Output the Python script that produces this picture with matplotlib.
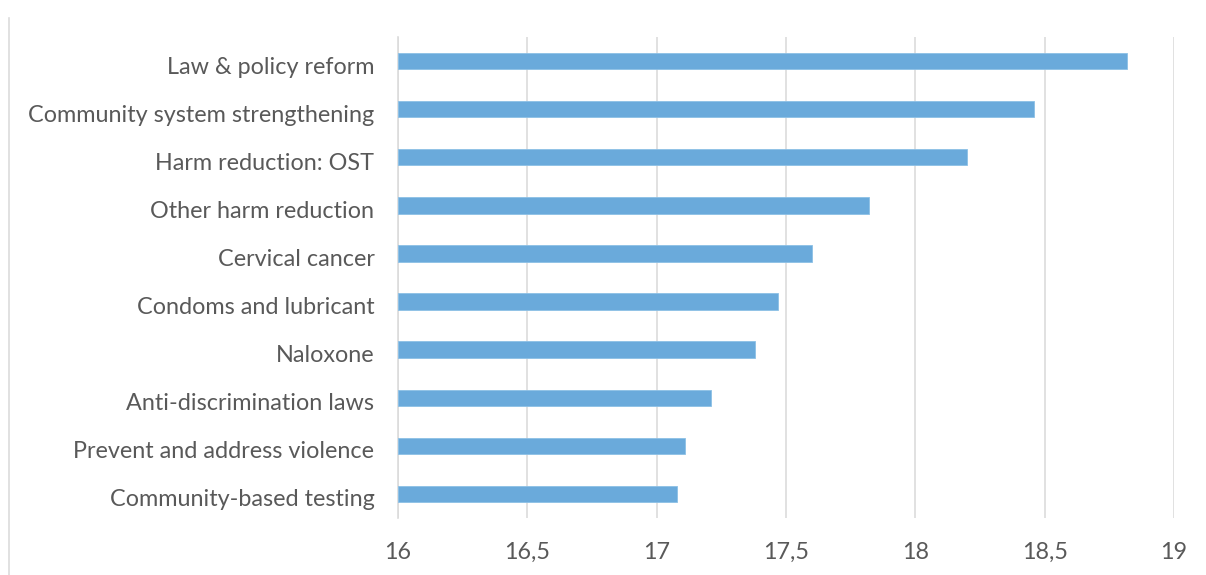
import matplotlib
matplotlib.use("Agg")
import matplotlib.pyplot as plt
from matplotlib.lines import Line2D
from matplotlib.transforms import ScaledTranslation

categories = [
    "Law & policy reform",
    "Community system strengthening",
    "Harm reduction: OST",
    "Other harm reduction",
    "Cervical cancer",
    "Condoms and lubricant",
    "Naloxone",
    "Anti-discrimination laws",
    "Prevent and address violence",
    "Community-based testing",
]
values = [18.82, 18.46, 18.20, 17.82, 17.60, 17.47, 17.38, 17.21, 17.11, 17.08]
x_ticks = [16, 16.5, 17, 17.5, 18, 18.5, 19]
x_tick_labels = ["16", "16,5", "17", "17,5", "18", "18,5", "19"]

plt.rcParams["font.family"] = ["Lato", "DejaVu Sans"]
text_color = "#595959"
grid_color = "#dcdcdc"
bar_color = "#6aaadb"

fig = plt.figure(figsize=(12.06, 5.75), dpi=100)
ax = fig.add_axes([398 / 1206, 1 - 518 / 575, (1174 - 398) / 1206, (518 - 37) / 575])

positions = list(range(len(categories)))
base = x_ticks[0]
ax.barh(positions, [v - base for v in values], left=base, height=0.34,
        color=bar_color, edgecolor="#8cc0e6", linewidth=0.6, zorder=3)

ax.set_xlim(x_ticks[0], x_ticks[-1])
ax.set_ylim(len(categories) - 0.5, -0.5)
ax.set_yticks(positions)
ax.set_yticklabels(categories, fontsize=16.8, color=text_color)
ax.set_xticks(x_ticks)
ax.set_xticklabels(x_tick_labels, fontsize=16.8, color=text_color)
ax.tick_params(axis="y", length=0, pad=17)
ax.tick_params(axis="x", length=0, pad=17)

# nudge category labels slightly downward
shift = ScaledTranslation(0, -4 / 100, fig.dpi_scale_trans)
for lbl in ax.yaxis.get_majorticklabels():
    lbl.set_transform(lbl.get_transform() + shift)

ax.grid(axis="x", color=grid_color, linewidth=1.2, zorder=0)
ax.set_axisbelow(True)
for side in ("top", "right", "bottom"):
    ax.spines[side].set_visible(False)
ax.spines["left"].set_color(grid_color)
ax.spines["left"].set_linewidth(1.2)

# Outer chart border (left edge only)
fig.add_artist(Line2D([9 / 1206, 9 / 1206], [0, 1 - 18 / 575],
                      transform=fig.transFigure, color=grid_color, linewidth=1.2))

fig.savefig("out.png", dpi=100, facecolor="white")
